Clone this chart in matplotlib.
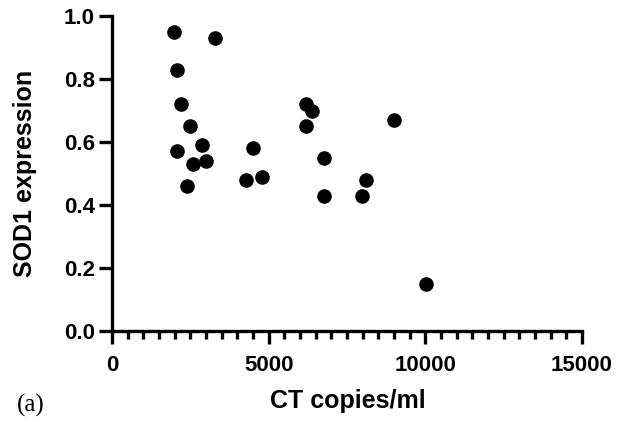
import matplotlib.pyplot as plt
from matplotlib.ticker import MultipleLocator

# CT copies/ml vs SOD1 expression
ct_copies = [1980, 3300, 2080, 2190, 2490, 2080, 2880, 2990, 2580, 2380,
             4490, 4790, 4290, 6180, 6400, 6180, 6780, 6780, 7990, 8100,
             9000, 10020]
sod1 = [0.95, 0.93, 0.83, 0.72, 0.65, 0.57, 0.59, 0.54, 0.53, 0.46,
        0.58, 0.49, 0.48, 0.72, 0.70, 0.65, 0.55, 0.43, 0.43, 0.48,
        0.67, 0.15]

x_ticks = [0, 5000, 10000, 15000]
y_ticks = [0.0, 0.2, 0.4, 0.6, 0.8, 1.0]

plt.rcParams['font.family'] = ['Liberation Sans', 'DejaVu Sans']
plt.rcParams['font.weight'] = 'bold'

fig = plt.figure(figsize=(6.17, 4.22), dpi=100)
ax = fig.add_axes([0.1815, 0.2156, 0.7615, 0.7464])

ax.scatter(ct_copies, sod1, s=90, color='black', zorder=3, clip_on=False)

ax.set_xlim(0, 15000)
ax.set_ylim(0, 1.0)
ax.set_xticks(x_ticks)
ax.set_yticks(y_ticks)
ax.set_yticklabels([f'{v:.1f}' for v in y_ticks])
ax.xaxis.set_minor_locator(MultipleLocator(500))

for side in ['top', 'right']:
    ax.spines[side].set_visible(False)
for side in ['left', 'bottom']:
    ax.spines[side].set_linewidth(2.4)

ax.tick_params(axis='both', which='major', length=9.4, width=2.4,
               labelsize=16)
ax.tick_params(axis='x', which='major', pad=8)
ax.tick_params(axis='y', which='major', pad=3)
ax.tick_params(axis='x', which='minor', length=5.5, width=2.4)

for lab in ax.get_xticklabels() + ax.get_yticklabels():
    lab.set_fontweight('bold')

ax.set_xlabel('CT copies/ml', fontsize=18, fontweight='bold', va='center')
ax.set_ylabel('SOD1 expression', fontsize=18, fontweight='bold', va='center')
ax.xaxis.set_label_coords(0.501, -0.222)
ax.yaxis.set_label_coords(-0.185, 0.5)

fig.text(0.0276, 0.040, '(a)', fontsize=18, family='Liberation Serif',
         fontweight='normal', va='center', ha='left')

fig.savefig('out.png', dpi=100)
